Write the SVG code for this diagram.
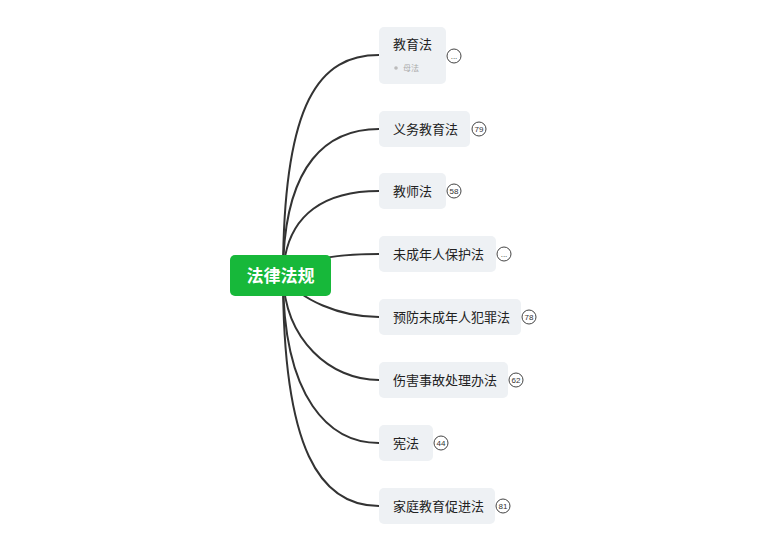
<svg xmlns="http://www.w3.org/2000/svg" width="771" height="552" viewBox="0 0 771 552">
<style>
.c{fill:none;stroke:#333;stroke-width:2}
.n{fill:#eef1f4}
.t{font-family:"Noto Sans CJK SC",sans-serif;font-size:13px;fill:#222}
.b{fill:#fff;stroke:#444;stroke-width:1}
.bt{font-family:"Liberation Sans",sans-serif;font-size:8px;fill:#333;text-anchor:middle}
</style>
<rect width="771" height="552" fill="#fff"/>
<g id="connectors">
<path class="c" d="M283 276 C283 100,320 55,379 55"/>
<path class="c" d="M283 276 C283 160,330 129,379 129"/>
<path class="c" d="M283 276 C285 210,330 191,379 191"/>
<path class="c" d="M283 276 C300 258,340 254,379 254"/>
<path class="c" d="M283 276 C300 300,340 317,379 317"/>
<path class="c" d="M283 276 C285 340,330 380,379 380"/>
<path class="c" d="M283 276 C283 400,330 443,379 443"/>
<path class="c" d="M283 276 C283 450,320 506,379 506"/>
</g>
<g id="root"><rect x="230" y="255" width="101" height="41" rx="5" fill="#17b83a"/><text x="280.5" y="282" font-family="Noto Sans CJK SC,sans-serif" font-size="17" font-weight="bold" fill="#fff" text-anchor="middle">法律法规</text></g>
<g id="n1"><rect class="n" x="379" y="27" width="67" height="57" rx="5"/><text class="t" x="393" y="49">教育法</text><circle cx="396" cy="68" r="1.8" fill="#bbb"/><text x="403" y="71" font-family="Noto Sans CJK SC,sans-serif" font-size="8" fill="#aaa">母法</text><circle class="b" cx="454" cy="56" r="7"/><text class="bt" x="454" y="59">...</text></g>
<g id="n2"><rect class="n" x="379" y="111" width="91" height="36" rx="5"/><text class="t" x="393" y="134">义务教育法</text><circle class="b" cx="479" cy="129" r="7"/><text class="bt" x="479" y="132">79</text></g>
<g id="n3"><rect class="n" x="379" y="173" width="67" height="36" rx="5"/><text class="t" x="393" y="196">教师法</text><circle class="b" cx="454" cy="191" r="7"/><text class="bt" x="454" y="194">58</text></g>
<g id="n4"><rect class="n" x="379" y="236" width="117" height="36" rx="5"/><text class="t" x="393" y="259">未成年人保护法</text><circle class="b" cx="504" cy="254" r="7"/><text class="bt" x="504" y="257">...</text></g>
<g id="n5"><rect class="n" x="379" y="299" width="142" height="36" rx="5"/><text class="t" x="393" y="322">预防未成年人犯罪法</text><circle class="b" cx="529" cy="317" r="7"/><text class="bt" x="529" y="320">78</text></g>
<g id="n6"><rect class="n" x="379" y="362" width="129" height="36" rx="5"/><text class="t" x="393" y="385">伤害事故处理办法</text><circle class="b" cx="516" cy="380" r="7"/><text class="bt" x="516" y="383">62</text></g>
<g id="n7"><rect class="n" x="379" y="425" width="54" height="36" rx="5"/><text class="t" x="393" y="448">宪法</text><circle class="b" cx="441" cy="443" r="7"/><text class="bt" x="441" y="446">44</text></g>
<g id="n8"><rect class="n" x="379" y="488" width="116" height="36" rx="5"/><text class="t" x="393" y="511">家庭教育促进法</text><circle class="b" cx="503" cy="506" r="7"/><text class="bt" x="503" y="509">81</text></g>
</svg>
